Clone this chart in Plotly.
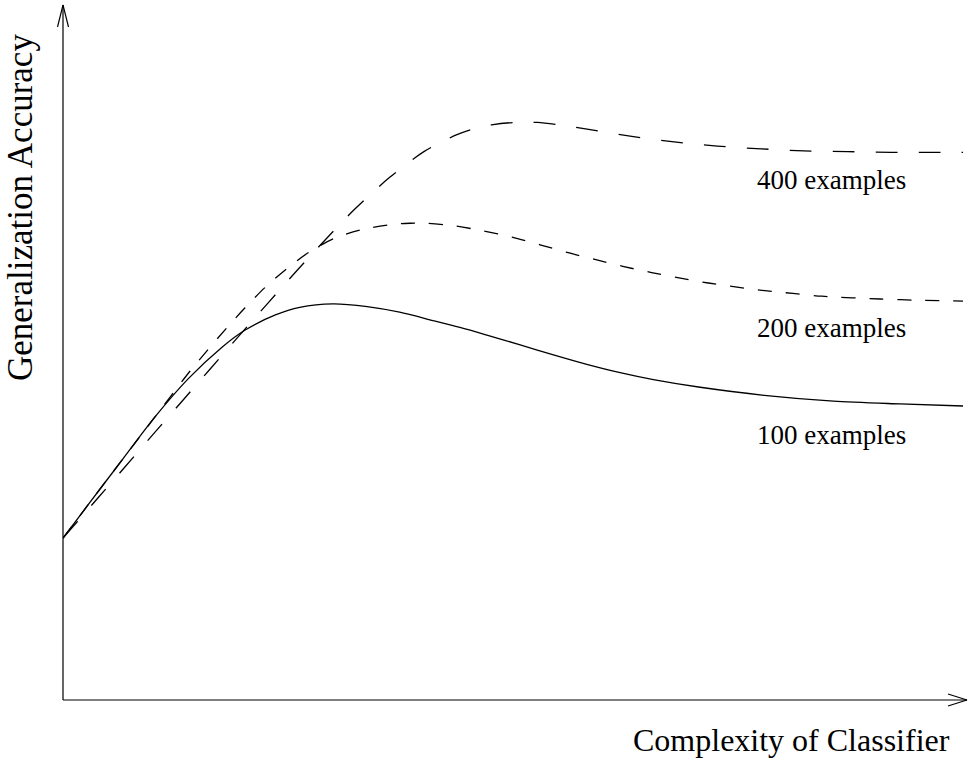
import plotly.graph_objects as go

# ---- data ----
x_100 = [0, 2.8, 6.6, 10.2, 13.9, 17.7, 20.2, 23.6, 26.3, 30.0, 33.8, 37.4, 41.1, 44.1,
         47.1, 50.8, 54.4, 58.2, 61.9, 65.6, 70.8, 78.2, 85.6, 93.0, 100]
y_100 = [23.3, 28.1, 34.6, 40.7, 46.2, 50.8, 53.2, 55.4, 56.5, 57.0, 56.6, 55.8, 54.6, 53.6,
         52.5, 51.1, 49.7, 48.3, 47.1, 46.1, 45.0, 43.8, 43.0, 42.6, 42.3]

x_200 = [0, 2.8, 6.6, 10.2, 14.1, 15.9, 18.1, 20.2, 22.4, 24.9, 27.3, 30.1, 33.3, 37.1,
         38.6, 40.4, 43.6, 46.7, 49.9, 53.0, 56.0, 59.1, 62.2, 65.4, 68.6, 71.7, 74.9,
         78.0, 81.1, 84.3, 90.8, 95.6, 100]
y_200 = [23.3, 28.1, 34.6, 40.7, 47.3, 50.1, 53.4, 56.4, 59.3, 62.1, 64.4, 66.4, 67.7, 68.5,
         68.6, 68.6, 68.2, 67.5, 66.6, 65.5, 64.4, 63.4, 62.4, 61.5, 60.7, 60.0, 59.4,
         58.9, 58.5, 58.1, 57.7, 57.5, 57.4]

x_400 = [0, 3.9, 7.0, 10.2, 13.3, 16.4, 19.7, 22.7, 26.0, 29.2, 32.4, 36.3, 40.1, 43.7,
         45.4, 47.8, 50.2, 52.7, 54.9, 58.4, 63.2, 67.9, 72.7, 77.6, 82.3, 87.2, 92.0,
         96.8, 100]
y_400 = [23.3, 29.1, 33.7, 38.5, 43.1, 47.7, 52.6, 57.0, 61.8, 66.3, 70.6, 75.2, 78.9, 81.3,
         82.1, 82.8, 83.1, 83.1, 82.8, 82.1, 81.1, 80.3, 79.7, 79.3, 79.0, 78.9, 78.8,
         78.8, 78.8]

series_labels = ["100 examples", "200 examples", "400 examples"]
label_x = [93.9, 93.9, 93.9]
label_y = [38.1, 53.5, 74.8]

x_title = "Complexity of Classifier"
y_title = "Generalization Accuracy"

FONT = "Liberation Serif"

fig = go.Figure()
fig.add_trace(go.Scatter(x=x_100, y=y_100, mode="lines", name=series_labels[0],
                         line=dict(color="black", width=1.3, shape="spline", smoothing=0.8)))
fig.add_trace(go.Scatter(x=x_200, y=y_200, mode="lines", name=series_labels[1],
                         line=dict(color="black", width=1.3, shape="spline", smoothing=0.8,
                                   dash="14px,14px")))
fig.add_trace(go.Scatter(x=x_400, y=y_400, mode="lines", name=series_labels[2],
                         line=dict(color="black", width=1.3, shape="spline", smoothing=0.8,
                                   dash="22px,21px")))

# plot area geometry in pixels
W, H = 968, 764
ML, MR, MT, MB = 63, 1, 5, 64
PW, PH = W - ML - MR, H - MT - MB

def px(dx):
    return dx / PW

def py(dy):
    return dy / PH

shapes = []
ax = dict(type="line", xref="paper", yref="paper", line=dict(color="black", width=1.2))
# y axis with open arrow head
shapes.append({**ax, "x0": 0, "y0": 0, "x1": 0, "y1": 1})
shapes.append({**ax, "x0": 0, "y0": 1, "x1": -px(5.5), "y1": 1 - py(22)})
shapes.append({**ax, "x0": 0, "y0": 1, "x1": px(5.5), "y1": 1 - py(22)})
# x axis with open arrow head
shapes.append({**ax, "x0": 0, "y0": 0, "x1": 1, "y1": 0})
shapes.append({**ax, "x0": 1, "y0": 0, "x1": 1 - px(19), "y1": py(6)})
shapes.append({**ax, "x0": 1, "y0": 0, "x1": 1 - px(19), "y1": -py(6)})

annotations = []
for t, lx, ly in zip(series_labels, label_x, label_y):
    annotations.append(dict(text=t, x=lx, y=ly, xref="x", yref="y", showarrow=False,
                            xanchor="right", yanchor="middle",
                            font=dict(family=FONT, size=27, color="black")))
annotations.append(dict(text=x_title, x=(952 - ML) / PW, y=(H - MB - 740) / PH,
                        xref="paper", yref="paper", showarrow=False,
                        xanchor="right", yanchor="middle",
                        font=dict(family=FONT, size=32, color="black")))
annotations.append(dict(text=y_title, x=(20 - ML) / PW, y=(H - MB - 208) / PH,
                        xref="paper", yref="paper", showarrow=False, textangle=-90,
                        xanchor="center", yanchor="middle",
                        font=dict(family=FONT, size=35, color="black")))

fig.update_layout(
    width=W, height=H,
    margin=dict(l=ML, r=MR, t=MT, b=MB, pad=0),
    paper_bgcolor="white", plot_bgcolor="white",
    showlegend=False,
    xaxis=dict(range=[0, PW / 9.0], visible=False, fixedrange=True),
    yaxis=dict(range=[0, 100], visible=False, fixedrange=True),
    shapes=shapes, annotations=annotations,
)

fig.write_html("out.html", config={"displayModeBar": False},
               post_script="document.body.style.margin='0';")
